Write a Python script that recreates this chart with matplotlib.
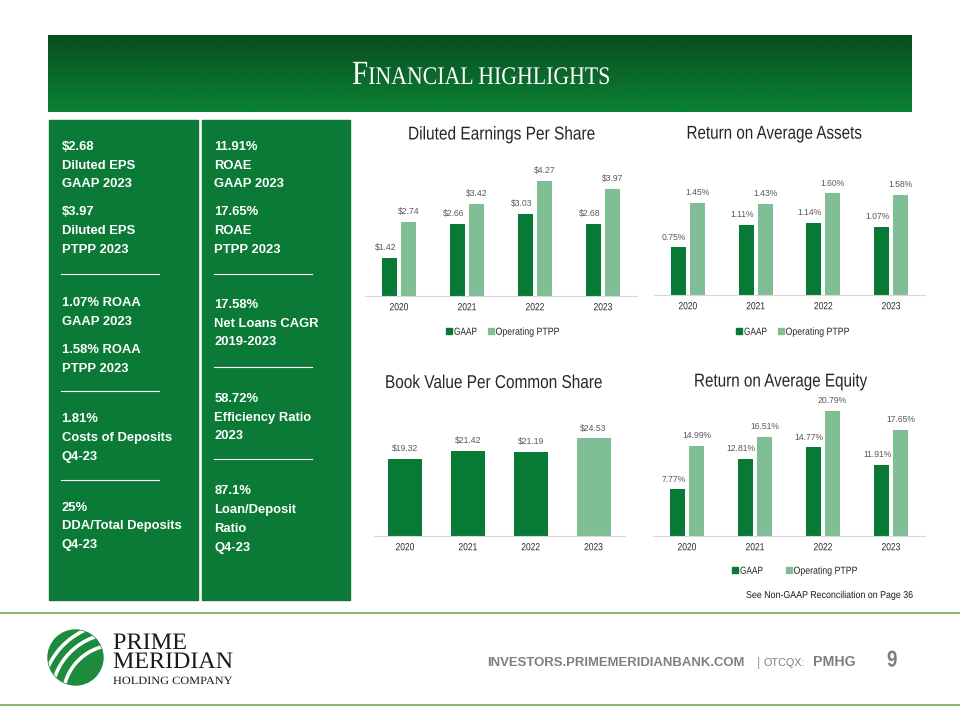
import matplotlib
matplotlib.use('Agg')
import matplotlib.pyplot as plt
import matplotlib.font_manager as fm
import numpy as np
from matplotlib.patches import Rectangle, Circle
from matplotlib.patheffects import AbstractPathEffect
from matplotlib.transforms import Affine2D, Bbox

# ---------------- data ----------------
years = ['2020', '2021', '2022', '2023']
eps_gaap = [1.42, 2.66, 3.03, 2.68]
eps_ptpp = [2.74, 3.42, 4.27, 3.97]
roaa_gaap = [0.75, 1.11, 1.14, 1.07]
roaa_ptpp = [1.45, 1.43, 1.60, 1.58]
bvps = [19.32, 21.42, 21.19, 24.53]
roae_gaap = [7.77, 12.81, 14.77, 11.91]
roae_ptpp = [14.99, 16.51, 20.79, 17.65]
legend_labels = ['GAAP', 'Operating PTPP']

box1_text = ['$2.68', 'Diluted EPS', 'GAAP 2023', '$3.97', 'Diluted EPS', 'PTPP 2023',
             '1.07% ROAA', 'GAAP 2023', '1.58% ROAA', 'PTPP 2023',
             '1.81%', 'Costs of Deposits', 'Q4-23',
             '25%', 'DDA/Total Deposits', 'Q4-23']
box2_text = ['11.91%', 'ROAE', 'GAAP 2023', '17.65%', 'ROAE', 'PTPP 2023',
             '17.58%', 'Net Loans CAGR', '2019-2023',
             '58.72%', 'Efficiency Ratio', '2023',
             '87.1%', 'Loan/Deposit', 'Ratio', 'Q4-23']

# ---------------- layout / style ----------------
box1_y = [145, 164, 182, 210, 229, 248, 301, 320, 348, 367, 417, 436, 455, 506, 524, 543]
box2_y = [145, 164, 182, 210, 229, 248, 303, 322, 340, 397, 416, 434, 489, 508, 527, 546]
box1_rules = [274, 391, 480]
box2_rules = [274, 367, 459]

DARK = '#077A35'
LIGHT = '#80BE95'
PANEL = '#0B7A36'
LBL = '#595959'
TXT = '#262626'


def has_font(name):
    try:
        fm.findfont(fm.FontProperties(family=name), fallback_to_default=False)
        return True
    except Exception:
        return False


HAS_NARROW = has_font('Liberation Sans Narrow')
NARROW = 'Liberation Sans Narrow' if HAS_NARROW else 'Liberation Sans'
SANS = 'Liberation Sans'
SERIF = 'Liberation Serif'
NSX = 1.0 if HAS_NARROW else 0.82   # horizontal squeeze emulating a narrow face


class Squeeze(AbstractPathEffect):
    """Draw the glyphs of a real Text horizontally condensed about its anchor."""

    def __init__(self, text, sx):
        super().__init__()
        self.text = text
        self.sx = sx

    def draw_path(self, renderer, gc, tpath, affine, rgbFace=None):
        x0, _ = self.text.get_transform().transform(self.text.get_unitless_position())
        a = affine + Affine2D().translate(-x0, 0).scale(self.sx, 1).translate(x0, 0)
        renderer.draw_path(gc, tpath, a, rgbFace)


def squeeze(t, sx):
    t.set_path_effects([Squeeze(t, sx)])
    orig = t.get_window_extent

    def gwe(renderer=None, dpi=None):
        bb = orig(renderer, dpi)
        x0 = t.get_transform().transform(t.get_unitless_position())[0]
        return Bbox.from_extents(x0 + (bb.x0 - x0) * sx, bb.y0,
                                 x0 + (bb.x1 - x0) * sx, bb.y1)
    t.get_window_extent = gwe


fig = plt.figure(figsize=(9.6, 7.2), dpi=100)
fig.patch.set_facecolor('white')
ax0 = fig.add_axes([0, 0, 1, 1])
ax0.set_xlim(0, 960)
ax0.set_ylim(720, 0)
ax0.axis('off')
R = fig.canvas.get_renderer()


def txt(x, y, s, size, w=None, sx=None, fit_size=False, **kw):
    """Text at given size; if w is given, squeeze (or resize) to that width."""
    t = ax0.text(x, y, s, fontsize=size, **kw)
    if w is not None:
        bb = t.get_window_extent(R)
        if fit_size:
            t.set_fontsize(size * w / bb.width)
            return t
        sx = w / bb.width
    if sx is not None and abs(sx - 1) > 1e-3:
        squeeze(t, sx)
    return t


# ---------------- header ----------------
grad = np.linspace(0, 1, 100)[:, None]
c_top = np.array([0x0A, 0x4C, 0x1E]) / 255
c_bot = np.array([0x0A, 0x82, 0x36]) / 255
img = c_top[None, None, :] * (1 - grad[:, :, None]) + c_bot[None, None, :] * grad[:, :, None]
img = np.repeat(img, 2, axis=1)
ax0.imshow(img, extent=[48, 912, 112, 35], aspect='auto', origin='upper', zorder=1)
ax0.set_xlim(0, 960)
ax0.set_ylim(720, 0)

HSX = 0.86
tF = ax0.text(0, 84, 'F', fontsize=22, family=SERIF, color='white', va='baseline', zorder=3)
tR = ax0.text(0, 84, 'INANCIAL HIGHLIGHTS', fontsize=16.5, family=SERIF, color='white',
              va='baseline', zorder=3)
wF = tF.get_window_extent(R).width
wR = tR.get_window_extent(R).width
k = 258.0 / ((wF + wR) * HSX)
tF.set_fontsize(22 * k)
tR.set_fontsize(16.5 * k)
wF *= k * HSX
wR *= k * HSX
x0 = 481 - (wF + wR) / 2
tF.set_x(x0)
tR.set_x(x0 + wF)
squeeze(tF, HSX)
squeeze(tR, HSX)

# ---------------- left panels ----------------
ax0.add_patch(Rectangle((49, 120), 149, 480, color=PANEL, zorder=1))
ax0.add_patch(Rectangle((202, 120), 148, 480, color=PANEL, zorder=1))
for s, y in zip(box1_text, box1_y):
    ax0.text(61.5, y + 4.6, s, fontsize=9.4, fontweight='bold', family=SANS,
             color='white', va='baseline', zorder=3)
for s, y in zip(box2_text, box2_y):
    ax0.text(214.5, y + 4.6, s, fontsize=9.4, fontweight='bold', family=SANS,
             color='white', va='baseline', zorder=3)
for y in box1_rules:
    ax0.plot([61, 159], [y, y], color='white', lw=0.8, zorder=3)
for y in box2_rules:
    ax0.plot([214, 312], [y, y], color='white', lw=0.8, zorder=3)


# ---------------- charts ----------------
def px_axes(x0, x1, ytop, ybot):
    return fig.add_axes([x0 / 960, 1 - ybot / 720, (x1 - x0) / 960, (ybot - ytop) / 720])


def style(ax, ymax):
    ax.set_xlim(-0.5, 3.5)
    ax.set_ylim(0, ymax)
    for s in ['top', 'right', 'left']:
        ax.spines[s].set_visible(False)
    ax.spines['bottom'].set_color('#d9d9d9')
    ax.spines['bottom'].set_linewidth(0.8)
    ax.set_yticks([])
    ax.set_xticks(range(len(years)))
    ax.set_xticklabels(years, fontsize=7.4, family=NARROW, color=TXT)
    ax.tick_params(axis='x', length=0, pad=4.5)
    if NSX != 1.0:
        for tl in ax.get_xticklabels():
            squeeze(tl, NSX)
    ax.patch.set_alpha(0)


def label_bars(ax, bars, vals, fmt, dx=0):
    for b, v in zip(bars, vals):
        ax.annotate(fmt.format(v), (b.get_x() + b.get_width() / 2, b.get_height()),
                    xytext=(dx, 4.2), textcoords='offset points', ha='center', va='bottom',
                    fontsize=6.2, family=SANS, color=LBL)


def grouped(ax, g, p, fmt, off=0.14, w=0.22):
    x = np.arange(len(years))
    b1 = ax.bar(x - off, g, w, color=DARK)
    b2 = ax.bar(x + off, p, w, color=LIGHT)
    label_bars(ax, b1, g, fmt, dx=-3)
    label_bars(ax, b2, p, fmt, dx=0)


def legend(x_sq1, x_sq2, y):
    for xs, col in zip([x_sq1, x_sq2], [DARK, LIGHT]):
        ax0.add_patch(Rectangle((xs, y - 3), 6, 6, color=col, zorder=3))
    txt(x_sq1 + 8, y + 3.8, legend_labels[0], 7.4, w=23, family=NARROW, color=TXT,
        va='baseline')
    txt(x_sq2 + 7.5, y + 3.8, legend_labels[1], 7.4, w=64, family=NARROW, color=TXT,
        va='baseline')


# Chart 1: Diluted EPS
ax1 = px_axes(365, 637, 160, 296)
style(ax1, 136 / 27.0)
grouped(ax1, eps_gaap, eps_ptpp, '${:.2f}')
txt(501.5, 139.5, 'Diluted Earnings Per Share', 13.4, w=187, family=NARROW, color=TXT,
    ha='center', va='baseline')
legend(446, 488, 331)

# Chart 2: ROAA
ax2 = px_axes(654, 925, 170, 295)
style(ax2, 125 / 63.5)
grouped(ax2, roaa_gaap, roaa_ptpp, '{:.2f}%')
txt(774, 138.7, 'Return on Average Assets', 13.4, w=175, family=NARROW, color=TXT,
    ha='center', va='baseline')
legend(736, 778, 331)

# Chart 3: Book value
ax3 = px_axes(373.6, 625, 420, 536)
style(ax3, 116 / 3.98)
b3 = ax3.bar(np.arange(len(years)), bvps, 0.54, color=[DARK, DARK, DARK, LIGHT])
label_bars(ax3, b3, bvps, '${:.2f}')
txt(493.5, 388, 'Book Value Per Common Share', 13.4, w=217, family=NARROW, color=TXT,
    ha='center', va='baseline')

# Chart 4: ROAE
ax4 = px_axes(653, 925, 400, 536)
style(ax4, 136 / 6.0)
grouped(ax4, roae_gaap, roae_ptpp, '{:.2f}%')
txt(780.5, 386.5, 'Return on Average Equity', 13.4, w=173, family=NARROW, color=TXT,
    ha='center', va='baseline')
legend(732, 786, 570)
txt(746, 598, 'See Non-GAAP Reconciliation on Page 36', 7.2, w=167, family=NARROW,
    color='#1a1a1a', va='baseline')

# ---------------- footer ----------------
ax0.plot([0, 960], [612.5, 612.5], color='#66A347', lw=1.1, zorder=2)
ax0.plot([0, 960], [704.5, 704.5], color='#66A347', lw=1.1, zorder=2)

# logo mark
LOGO_G = '#1C8B3C'
circ = Circle((75.5, 657.5), 27.5, color=LOGO_G, zorder=3)
ax0.add_patch(circ)
C = np.array([115.5, 697.5])
t = np.linspace(np.pi, 1.5 * np.pi, 200)
for r in [74.0, 64.0, 52.5]:
    ln, = ax0.plot(C[0] + r * np.cos(t), C[1] + r * np.sin(t), color='white', lw=2.6, zorder=4)
    ln.set_clip_path(circ)

txt(113, 649, 'PRIME', 17, w=74, family=SERIF, color='#1a1a1a', va='baseline')
txt(113, 668, 'MERIDIAN', 17, w=120, family=SERIF, color='#1a1a1a', va='baseline')
txt(113, 684, 'HOLDING COMPANY', 8, w=120, family=SERIF, color='#1a1a1a', va='baseline')

GRAY = '#7F7F7F'
txt(487, 666, 'INVESTORS.PRIMEMERIDIANBANK.COM', 11, w=256, fit_size=True, family=SANS,
    fontweight='bold', color=GRAY, va='baseline')
txt(757, 666, '|', 9, family=SANS, color='#9a9a9a', va='baseline')
txt(764, 666, 'OTCQX:', 7.8, family=SANS, color=GRAY, va='baseline')
txt(813, 666, 'PMHG', 11, w=42, fit_size=True, family=SANS, fontweight='bold', color=GRAY,
    va='baseline')
txt(887, 666.5, '9', 16.5, sx=NSX, family=NARROW, fontweight='bold', color=GRAY,
    va='baseline')

fig.savefig('out.png', dpi=100, facecolor='white')
